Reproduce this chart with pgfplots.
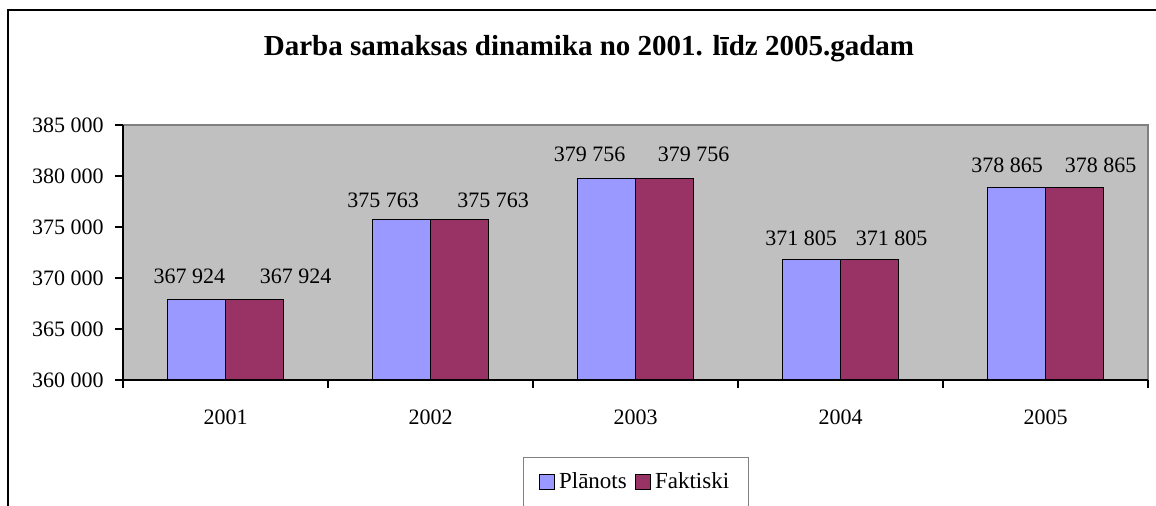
\documentclass[border=0pt]{standalone}
\usepackage{pgfplots}
\pgfplotsset{compat=1.18}
\usepackage{pgfplotstable}
\usepackage{fontspec}
\setmainfont{Liberation Serif}
\definecolor{bgray}{HTML}{C0C0C0}
\definecolor{pblue}{HTML}{9999FF}
\definecolor{pmaroon}{HTML}{993366}
\definecolor{frgray}{HTML}{808080}

\pgfplotstableread{
x y dxa dxb dy
1 367924 -3.5 20.5 8
2 375763 -9.25 16.75 6
3 379756 -8.5 14.5 8.5
4 371805 -5.25 11 7
5 378865 -4.75 13 7.5
}\datatab

\begin{document}
\fontsize{11}{13}\selectfont
\begin{tikzpicture}
\useasboundingbox (0,0) rectangle (578pt,253pt);
\clip (0,0) rectangle (578pt,253pt);
\draw[line width=1pt] (4pt,-10pt) rectangle (600pt,248pt);
\node[anchor=base, inner sep=0pt, font=\fontsize{14.5}{17}\selectfont\bfseries] at (294.5pt,225pt) {Darba samaksas dinamika no 2001. līdz 2005.gadam};
\begin{axis}[
  at={(61.5pt,63pt)}, anchor=south west,
  scale only axis, width=512.5pt, height=127.5pt,
  ybar=0pt, bar width=29pt,
  xmin=0.5, xmax=5.5, ymin=360000, ymax=385000,
  scaled y ticks=false,
  axis background/.style={fill=bgray, draw=frgray, line width=0.6pt},
  axis x line*=bottom, axis y line*=left,
  axis line style={black, line width=0.6pt},
  ytick={360000,365000,370000,375000,380000,385000},
  yticklabel style={anchor=east, inner sep=0pt, xshift=-5.5pt},
  xtick={0.5,1.5,...,5.5}, xticklabels={},
  extra x ticks={1,2,3,4,5},
  extra x tick labels={2001,2002,2003,2004,2005},
  extra x tick style={major tick length=0pt},
  xticklabel style={anchor=base, inner sep=0pt, yshift=-22.5pt},
  tick align=outside, major tick length=4pt,
  tick style={black, line width=0.6pt},
  ticklabel style={font=\fontsize{11}{13}\selectfont},
  /pgf/number format/fixed, /pgf/number format/precision=0,
  /pgf/number format/1000 sep={\ }, /pgf/number format/assume math mode=true,
  legend columns=2,
  legend style={at={(0.5005,-0.4)}, anchor=center, draw=frgray, line width=0.6pt,
    font=\fontsize{11.5}{13}\selectfont, inner xsep=7.5pt, inner ysep=5.5pt,
    /tikz/every even column/.append style={column sep=2pt}},
]
\addplot[fill=pblue, draw=black, line width=0.6pt,
  legend image code/.code={\draw[fill=pblue, draw=black, line width=0.6pt] (0pt,-3.75pt) rectangle (7.5pt,3.75pt);},
  visualization depends on={\thisrow{dxa}\as\dx},
  visualization depends on={\thisrow{dy}\as\dy},
  nodes near coords,
  every node near coord/.append style={anchor=base, inner sep=0pt, xshift=\dx, yshift=\dy, font=\fontsize{11}{13}\selectfont, text=black}]
  table[x=x,y=y]{\datatab};
\addplot[fill=pmaroon, draw=black, line width=0.6pt,
  legend image code/.code={\draw[fill=pmaroon, draw=black, line width=0.6pt] (0pt,-3.75pt) rectangle (7.5pt,3.75pt);},
  visualization depends on={\thisrow{dxb}\as\dx},
  visualization depends on={\thisrow{dy}\as\dy},
  nodes near coords,
  every node near coord/.append style={anchor=base, inner sep=0pt, xshift=\dx, yshift=\dy, font=\fontsize{11}{13}\selectfont, text=black}]
  table[x=x,y=y]{\datatab};
\legend{Plānots, Faktiski}
\end{axis}
\end{tikzpicture}
\end{document}
